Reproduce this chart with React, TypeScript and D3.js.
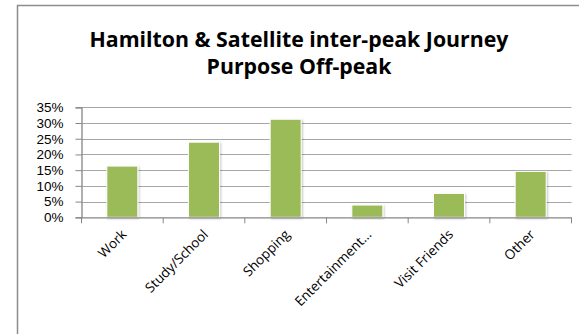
import React, { useEffect, useRef } from "react";
import * as d3 from "d3";

const categories = ["Work", "Study/School", "Shopping", "Entertainment...", "Visit Friends", "Other"];
const values = [0.163, 0.239, 0.312, 0.039, 0.076, 0.146];
const yTicks = [0, 0.05, 0.1, 0.15, 0.2, 0.25, 0.3, 0.35];
const titleLines = ["Hamilton & Satellite inter-peak Journey", "Purpose Off-peak"];

const W = 579;
const H = 334;

export default function App() {
  const svgRef = useRef<SVGSVGElement>(null);

  useEffect(() => {
    if (!svgRef.current) return;
    const svg = d3.select(svgRef.current);
    svg.selectAll("*").remove();

    const left = 81.5;
    const right = 571.5;
    const top = 107.3;
    const bottom = 217.3;
    const font = "'Open Sans', 'Noto Sans', sans-serif";
    const tickFont = "'Liberation Sans', Arial, sans-serif";

    // 外枠
    svg
      .append("rect")
      .attr("x", 17.5)
      .attr("y", 5.5)
      .attr("width", 700)
      .attr("height", 500)
      .attr("fill", "white")
      .attr("stroke", "#8c8c8c")
      .attr("stroke-width", 1.5);

    const defs = svg.append("defs");
    const f = defs.append("filter").attr("id", "sh").attr("x", "-20%").attr("y", "-20%").attr("width", "140%").attr("height", "140%");
    f.append("feDropShadow")
      .attr("dx", 1)
      .attr("dy", 1)
      .attr("stdDeviation", 1)
      .attr("flood-color", "#000")
      .attr("flood-opacity", 0.25);

    // タイトル
    svg
      .append("text")
      .attr("text-anchor", "middle")
      .style("font-family", font)
      .style("font-weight", "bold")
      .style("font-size", "21.3px")
      .attr("fill", "#000")
      .selectAll("tspan")
      .data(titleLines)
      .enter()
      .append("tspan")
      .attr("x", 299)
      .attr("y", (_d, i) => 47 + i * 27)
      .text((d) => d);

    const x = d3
      .scaleBand()
      .domain(categories)
      .range([left, right])
      .paddingInner(0.62)
      .paddingOuter(0.31);

    const y = d3.scaleLinear().domain([0, 0.35]).range([bottom, top]);

    // グリッド線
    svg
      .append("g")
      .selectAll("line")
      .data(yTicks.slice(1))
      .enter()
      .append("line")
      .attr("x1", left)
      .attr("x2", right)
      .attr("y1", (d) => Math.round(y(d)) + 0.5)
      .attr("y2", (d) => Math.round(y(d)) + 0.5)
      .attr("stroke", "#a6a6a6")
      .attr("stroke-width", 1.2);

    // Y軸
    const yAxis = svg
      .append("g")
      .attr("transform", `translate(${left},0)`)
      .call(
        d3
          .axisLeft(y)
          .tickValues(yTicks)
          .tickSize(6)
          .tickPadding(12)
          .tickFormat((d) => `${Math.round(+d * 100)}%`)
      );
    yAxis.select(".domain").attr("stroke", "#868686").attr("stroke-width", 1.3);
    yAxis.selectAll(".tick line").attr("stroke", "#868686");
    yAxis
      .selectAll("text")
      .attr("fill", "#000")
      .style("font-family", tickFont)
      .style("font-size", "13.5px");

    // バー
    svg
      .append("g")
      .selectAll("rect")
      .data(values)
      .enter()
      .append("rect")
      .attr("x", (_d, i) => x(categories[i]) || 0)
      .attr("y", (d) => y(d))
      .attr("width", x.bandwidth())
      .attr("height", (d) => bottom - y(d))
      .attr("fill", "#9bbb59")
      .attr("stroke", "#ffffff")
      .attr("stroke-width", 1)
      .attr("filter", "url(#sh)");

    // X軸
    const step = x.step();
    const bounds = d3.range(categories.length + 1).map((i) => left + i * step);
    const xg = svg.append("g");
    xg.append("line")
      .attr("x1", left)
      .attr("x2", right)
      .attr("y1", bottom + 0.5)
      .attr("y2", bottom + 0.5)
      .attr("stroke", "#868686")
      .attr("stroke-width", 1.3);
    xg.selectAll(".tk")
      .data(bounds)
      .enter()
      .append("line")
      .attr("x1", (d) => d)
      .attr("x2", (d) => d)
      .attr("y1", bottom)
      .attr("y2", bottom + 6)
      .attr("stroke", "#868686");

    xg.selectAll(".lbl")
      .data(categories)
      .enter()
      .append("text")
      .attr("text-anchor", "end")
      .attr(
        "transform",
        (d) => `translate(${(x(d) || 0) + x.bandwidth() / 2 + 5},${bottom + 18}) rotate(-45)`
      )
      .attr("fill", "#000")
      .style("font-family", font)
      .style("font-size", "13.5px")
      .text((d) => d);
  }, []);

  return (
    <svg
      ref={svgRef}
      width={W}
      height={H}
      style={{ position: "absolute", left: 0, top: 0, background: "white" }}
    />
  );
}
